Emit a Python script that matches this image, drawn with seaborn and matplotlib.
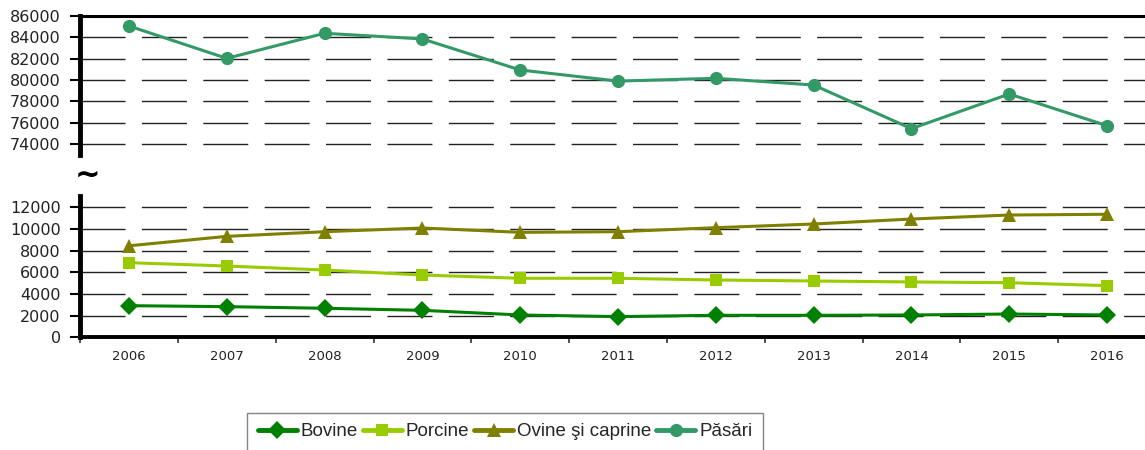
import matplotlib
matplotlib.use("Agg")
import matplotlib.pyplot as plt
import pandas as pd
import seaborn as sns

years = [2006, 2007, 2008, 2009, 2010, 2011, 2012, 2013, 2014, 2015, 2016]
bovine = [2920, 2830, 2680, 2490, 2060, 1910, 2030, 2030, 2060, 2150, 2060]
porcine = [6890, 6580, 6210, 5750, 5450, 5450, 5290, 5200, 5110, 5040, 4770]
ovine = [8450, 9320, 9750, 10090, 9690, 9750, 10120, 10460, 10920, 11290, 11360]
pasari = [85060, 82030, 84380, 83850, 80940, 79900, 80160, 79530, 75440, 78690, 75720]

names = ["Bovine", "Porcine", "Ovine şi caprine", "Păsări"]
colors = ["#008000", "#99CC00", "#808000", "#339966"]
markers = ["D", "s", "^", "o"]

sns.set_style("white")
plt.rcParams["font.family"] = ["DejaVu Sans"]
plt.rcParams["lines.scale_dashes"] = False

fig = plt.figure(figsize=(11.45, 4.5), dpi=100)
W, H = 1145, 450
left = 80.1 / W
width = (1155.9 - 80.1) / W
ax_top = fig.add_axes([left, 1 - 154.7 / H, width, 138.7 / H])
ax_bot = fig.add_axes([left, 1 - 337.3 / H, width, 140.8 / H])

grid_style = dict(color="#222222", linewidth=1.0, linestyle=(0, (32.4, 11.8)))

low = pd.DataFrame({"year": years, "Bovine": bovine, "Porcine": porcine,
                    "Ovine şi caprine": ovine})
sizes = {"D": 9, "s": 9, "^": 10.5}
for name, col, mk in zip(names[:3], colors[:3], markers[:3]):
    sns.lineplot(data=low, x="year", y=name, ax=ax_bot, color=col, marker=mk,
                 markersize=sizes[mk], markeredgewidth=0, linewidth=2.2,
                 label=name, legend=False, zorder=3)

sns.lineplot(x=years, y=pasari, ax=ax_top, color=colors[3], marker="o",
             markersize=9.5, markeredgewidth=0, linewidth=2.2, label=names[3],
             legend=False, zorder=3)

for ax in (ax_top, ax_bot):
    ax.set_xlim(2005.5, 2016.5)
    ax.set_xlabel("")
    ax.set_ylabel("")
    ax.yaxis.grid(True, **grid_style)
    ax.xaxis.grid(False)
    ax.set_axisbelow(True)
    ax.spines["right"].set_visible(False)
    ax.spines["left"].set_linewidth(3.5)
    ax.spines["left"].set_color("black")
    ax.tick_params(axis="y", direction="out", length=7, width=1.5,
                   labelsize=11.5, pad=7, left=True, colors="black")
    ax.tick_params(axis="y", labelcolor="#222222")

ax_top.set_ylim(73000, 86000)
ax_top.set_yticks(range(74000, 86001, 2000))
ax_top.spines["bottom"].set_visible(False)
ax_top.spines["top"].set_linewidth(2.2)
ax_top.spines["top"].set_color("black")
ax_top.set_xticks([])

ax_bot.set_ylim(0, 13000)
ax_bot.set_yticks(range(0, 12001, 2000))
ax_bot.spines["top"].set_visible(False)
ax_bot.spines["bottom"].set_linewidth(2.8)
ax_bot.spines["bottom"].set_color("black")
ax_bot.set_xticks(years)
ax_bot.set_xticklabels([str(y) for y in years])
ax_bot.set_xticks([y + 0.5 for y in [2005] + years], minor=True)
ax_bot.tick_params(axis="x", which="major", length=0, pad=9, labelsize=9.5,
                   labelcolor="#222222")
ax_bot.tick_params(axis="x", which="minor", direction="out", length=4,
                   width=1.2, bottom=True, color="#333333")

fig.text(88 / W, 1 - 175 / H, "~", fontsize=22, fontweight="bold",
         ha="center", va="center", color="black")

handles, labels = ax_bot.get_legend_handles_labels()
h2, l2 = ax_top.get_legend_handles_labels()
leg = fig.legend(handles + h2, labels + l2, loc="upper center",
                 bbox_to_anchor=(505 / W, 1 - 413 / H), ncol=4,
                 frameon=True, fancybox=False, edgecolor="#666666",
                 handlelength=2.1, handletextpad=0.2, columnspacing=0.25,
                 borderpad=0.55, borderaxespad=0,
                 prop={"family": ["Liberation Sans", "DejaVu Sans"],
                       "size": 13.5})
for line in leg.get_lines():
    line.set_linewidth(3.5)
leg.get_frame().set_linewidth(1.0)

fig.savefig("out.png", dpi=100)
